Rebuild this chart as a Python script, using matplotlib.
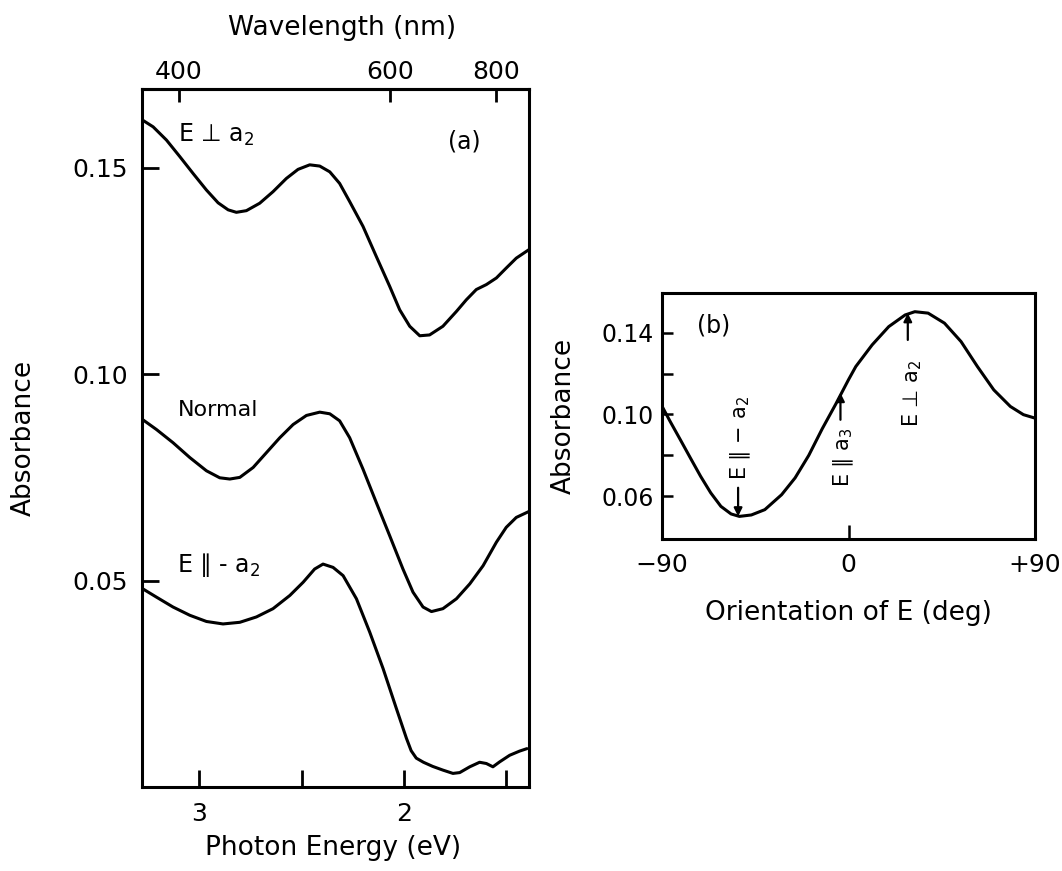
import matplotlib
matplotlib.use('Agg')
import matplotlib.pyplot as plt

plt.rcParams['font.family'] = ['DejaVu Sans']
plt.rcParams['mathtext.fontset'] = 'dejavusans'

# (a) absorbance spectra, photon energy in eV
energy_perp = [3.281, 3.224, 3.159, 3.094, 3.029, 2.964, 2.907, 2.858, 2.818, 2.769,
               2.704, 2.639, 2.574, 2.517, 2.460, 2.411, 2.362, 2.314, 2.265, 2.200,
               2.135, 2.070, 2.021, 1.972, 1.923, 1.875, 1.810, 1.744, 1.696, 1.647,
               1.598, 1.549, 1.501, 1.452, 1.392]
abs_perp = [0.1617, 0.1599, 0.1567, 0.1527, 0.1486, 0.1446, 0.1415, 0.1398, 0.1392, 0.1396,
            0.1414, 0.1442, 0.1474, 0.1496, 0.1507, 0.1504, 0.1490, 0.1462, 0.1418, 0.1358,
            0.1285, 0.1213, 0.1156, 0.1116, 0.1093, 0.1095, 0.1116, 0.1152, 0.1180, 0.1205,
            0.1217, 0.1233, 0.1257, 0.1281, 0.1301]

energy_normal = [3.281, 3.208, 3.127, 3.045, 2.964, 2.899, 2.850, 2.801, 2.736, 2.671,
                 2.606, 2.541, 2.476, 2.411, 2.362, 2.314, 2.265, 2.200, 2.135, 2.070,
                 2.005, 1.956, 1.907, 1.866, 1.810, 1.744, 1.679, 1.614, 1.549, 1.501,
                 1.452, 1.392]
abs_normal = [0.0892, 0.0866, 0.0834, 0.0798, 0.0766, 0.0749, 0.0746, 0.0750, 0.0774, 0.0810,
              0.0846, 0.0878, 0.0900, 0.0908, 0.0904, 0.0887, 0.0846, 0.0770, 0.0689, 0.0609,
              0.0528, 0.0472, 0.0436, 0.0425, 0.0432, 0.0456, 0.0492, 0.0536, 0.0593, 0.0629,
              0.0653, 0.0667]

energy_par = [3.281, 3.208, 3.127, 3.045, 2.964, 2.883, 2.801, 2.720, 2.639, 2.557,
              2.492, 2.436, 2.395, 2.346, 2.297, 2.232, 2.167, 2.102, 2.037, 1.988,
              1.965, 1.940, 1.905, 1.860, 1.810, 1.761, 1.728, 1.679, 1.631, 1.598,
              1.566, 1.533, 1.484, 1.436, 1.400]
abs_par = [0.0482, 0.0460, 0.0436, 0.0416, 0.0401, 0.0395, 0.0399, 0.0412, 0.0432, 0.0464,
           0.0496, 0.0528, 0.0540, 0.0532, 0.0512, 0.0456, 0.0375, 0.0287, 0.0190, 0.0118,
           0.0088, 0.0070, 0.0060, 0.0050, 0.0041, 0.0033, 0.0035, 0.0049, 0.0060, 0.0057,
           0.0049, 0.0061, 0.0077, 0.0087, 0.0093]

# (b) absorbance vs orientation of E
angle_deg = [-90, -86.1, -81.2, -76.3, -71.4, -66.5, -61.6, -56.7, -52.7, -46.9,
             -40.4, -32.3, -25.8, -19.2, -12.7, -6.2, 0, 3.5, 11.4, 19.4,
             27.3, 32.0, 38.4, 46.3, 54.3, 62.2, 70.1, 78.1, 84.4, 90]
abs_angle = [0.1040, 0.0966, 0.0877, 0.0787, 0.0698, 0.0617, 0.0551, 0.0514, 0.0502, 0.0509,
             0.0535, 0.0608, 0.0690, 0.0800, 0.0930, 0.1050, 0.1170, 0.1234, 0.1340, 0.1429,
             0.1486, 0.1502, 0.1495, 0.1446, 0.1356, 0.1234, 0.1120, 0.1039, 0.0999, 0.0982]

wl_ticks = [400, 600, 800]
ev_ticks = [3, 2.5, 2, 1.5]
ev_labels = ['3', '', '2', '']
b_xticks = [-90, 0, 90]
b_xlabels = ['\u221290', '0', '+90']

LW = 2.2

fig = plt.figure(figsize=(10.62, 8.71), dpi=100)

# ---- panel (a)
ax = fig.add_axes([0.1334, 0.0964, 0.3647, 0.8011])
for e, a in [(energy_perp, abs_perp), (energy_normal, abs_normal), (energy_par, abs_par)]:
    ax.plot(e, a, color='black', lw=LW, solid_joinstyle='round', solid_capstyle='round')
ax.set_xlim(3.28, 1.39)
ax.set_ylim(0.0, 0.169)
ax.set_xticks(ev_ticks)
ax.set_xticklabels(ev_labels)
ax.set_yticks([0.05, 0.10, 0.15])
ax.set_yticklabels(['0.05', '0.10', '0.15'])
ax.tick_params(axis='x', direction='in', length=12, width=2, labelsize=18, pad=11)
ax.tick_params(axis='y', direction='in', length=12, width=2, labelsize=18, pad=10)
for s in ax.spines.values():
    s.set_linewidth(2.2)
ax.set_xlabel('Photon Energy (eV)', fontsize=19)
ax.xaxis.set_label_coords(0.495, -0.0688)
ax.set_ylabel('Absorbance', fontsize=19)
ax.yaxis.set_label_coords(-0.27, 0.5)

top = ax.secondary_xaxis('top', functions=(lambda e: 1239.84 / e, lambda w: 1239.84 / w))
top.set_xticks(wl_ticks)
top.tick_params(direction='in', length=9, width=2, labelsize=18, pad=4)
for s in top.spines.values():
    s.set_linewidth(2.2)
fig.text(0.3217, 0.9679, 'Wavelength (nm)', fontsize=19, ha='center', va='center')

ax.text(3.104, 0.1562, 'E \u22a5 a$_2$', fontsize=17, ha='left', va='baseline')
ax.text(1.787, 0.1564, '(a)', fontsize=17, ha='left', va='center')
ax.text(3.104, 0.0898, 'Normal', fontsize=16, ha='left', va='baseline')
ax.text(3.11, 0.0521, 'E \u2225 - a$_2$', fontsize=17, ha='left', va='baseline')

# ---- panel (b)
bx = fig.add_axes([0.6234, 0.3808, 0.3512, 0.2832])
bx.plot(angle_deg, abs_angle, color='black', lw=LW, solid_joinstyle='round')
bx.set_xlim(-90, 90)
bx.set_ylim(0.039, 0.1595)
bx.set_xticks(b_xticks)
bx.set_xticklabels(b_xlabels)
bx.set_yticks([0.06, 0.08, 0.10, 0.12, 0.14])
bx.set_yticklabels(['0.06', '', '0.10', '', '0.14'])
bx.tick_params(axis='x', direction='in', length=10, width=1.8, labelsize=18, pad=10)
bx.tick_params(axis='y', direction='in', length=8, width=1.8, labelsize=17, pad=6)
for s in bx.spines.values():
    s.set_linewidth(2.2)
bx.set_xlabel('Orientation of E (deg)', fontsize=19)
bx.xaxis.set_label_coords(0.499, -0.246)
bx.set_ylabel('Absorbance', fontsize=19)
bx.yaxis.set_label_coords(-0.228, 0.5)

bx.text(-72.9, 0.1433, '(b)', fontsize=17, ha='left', va='center')

arrow = dict(arrowstyle='-|>', color='black', lw=1.6, mutation_scale=12, shrinkA=0, shrinkB=0)
bx.annotate('', xy=(-53.3, 0.0502), xytext=(-53.3, 0.0642), arrowprops=arrow)
bx.text(-52.0, 0.068, 'E \u2225 \u2212 a$_2$', fontsize=15, rotation=90, ha='center', va='bottom')
bx.annotate('', xy=(-3.9, 0.1105), xytext=(-3.9, 0.0974), arrowprops=arrow)
bx.text(-2.5, 0.0645, 'E \u2225 a$_3$', fontsize=15, rotation=90, ha='center', va='bottom')
bx.annotate('', xy=(28.6, 0.1495), xytext=(28.6, 0.1364), arrowprops=arrow)
bx.text(30.5, 0.0938, 'E \u22a5 a$_2$', fontsize=15, rotation=90, ha='center', va='bottom')

fig.savefig('out.png', dpi=100)
